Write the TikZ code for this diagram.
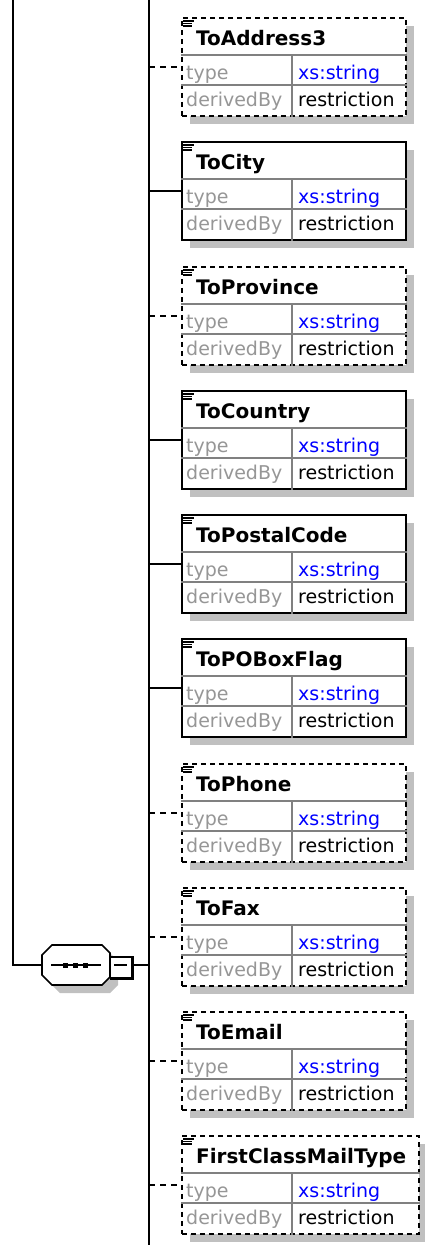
\documentclass[tikz,border=0pt]{standalone}
\usepackage{fontspec}
\setmainfont{DejaVu Sans}
\usetikzlibrary{shadows}
\definecolor{shadowgray}{RGB}{192,192,192}
\definecolor{labelgray}{RGB}{150,150,150}
\definecolor{rulegray}{RGB}{128,128,128}
\definecolor{typeblue}{RGB}{0,0,255}
\tikzset{
  req/.style={line width=1.8pt},
  opt/.style={line width=1.8pt, dash pattern=on 6pt off 5pt},
  reqbox/.style={line width=1.8pt},
  optbox/.style={line width=1.8pt, dash pattern=on 5pt off 4pt},
  elem/.style={draw, fill=white, inner sep=0pt, minimum height=98pt,
    drop shadow={shadow xshift=8pt, shadow yshift=-8pt, fill=shadowgray, opacity=1}},
  divider/.style={draw=rulegray, line width=1.3pt},
  docicon/.style={line width=1.2pt},
  eltitle/.style={anchor=base west, inner sep=0pt, font=\fontsize{20}{24}\selectfont\bfseries},
  attrname/.style={anchor=base west, inner sep=0pt, text=labelgray, font=\fontsize{19}{22}\selectfont},
  attrval/.style={anchor=base west, inner sep=0pt, font=\fontsize{19}{22}\selectfont},
}
% element box: id, title, top, width, line style (req/opt)
\newcommand{\elembox}[5]{%
  \node[elem, #5box, minimum width=#4pt, anchor=north west] (#1) at (181,#3) {};
  \draw[divider] ([yshift=-38pt]#1.north west) -- ([yshift=-38pt]#1.north east);
  \draw[divider] ([yshift=-68pt]#1.north west) -- ([yshift=-68pt]#1.north east);
  \draw[divider] ([shift={(111pt,-38pt)}]#1.north west) -- ([xshift=111pt]#1.south west);
  \draw[docicon] ([shift={(2pt,-4pt)}]#1.north west) -- ++(11pt,0pt);
  \draw[docicon] ([shift={(2pt,-6.5pt)}]#1.north west) -- ++(9pt,0pt);
  \draw[docicon] ([shift={(2pt,-9pt)}]#1.north west) -- ++(9pt,0pt);
  \node[eltitle] (#1-t) at ([shift={(15pt,-28pt)}]#1.north west) {#2};
  \node[attrname] (#1-tn) at ([shift={(5pt,-62pt)}]#1.north west) {type};
  \node[attrval, text=typeblue] (#1-tv) at ([shift={(117pt,-62pt)}]#1.north west) {xs:string};
  \node[attrname] (#1-dn) at ([shift={(5pt,-89pt)}]#1.north west) {derivedBy};
  \node[attrval] (#1-dv) at ([shift={(117pt,-89pt)}]#1.north west) {restriction};
  \coordinate (#1-c) at ([yshift=-50pt]#1.north west);
  \draw[#5] (#1-c -| spinetop) -- (#1-c);
}
\begin{document}
\begin{tikzpicture}[x=1pt,y=-1pt]
\useasboundingbox (0,0) rectangle (424,1245);
% spine and incoming line
\coordinate (spinetop) at (149,0);
\coordinate (spinebot) at (149,1245);
\coordinate (rootline) at (13,0);
\draw[req] (spinetop) -- (spinebot);
% sequence compositor
\node[minimum width=68pt, minimum height=40pt, inner sep=0pt] (seq) at (76,965) {};
\fill[shadowgray, shift={(8,8)}] (42,955) -- (52,945) -- (102,945) -- (110,953) -- (110,977) -- (102,985) -- (52,985) -- (42,975) -- cycle;
\draw[line width=1.6pt, fill=white] (42,955) -- (52,945) -- (102,945) -- (110,953) -- (110,977) -- (102,985) -- (52,985) -- (42,975) -- cycle;
\draw[line width=1.6pt] (51,965) -- (101,965);
\foreach \sx in {65,75,85}
  \fill (\sx-2.5,962.5) rectangle ++(5,5);
\node[draw, fill=white, line width=1.6pt, minimum width=21pt, minimum height=21pt, inner sep=0pt] (grp) at (121,967.5) {};
\draw[line width=3pt] (grp.south west) -- (grp.south east) -- (grp.north east);
\draw[line width=1.5pt] ([xshift=-7pt,yshift=2.5pt]grp.center) -- ([xshift=6pt,yshift=2.5pt]grp.center);
\draw[req] (rootline) |- (seq.west);
\draw[req] (grp.east |- seq.west) -- (seq.west -| spinetop);
% child elements
\elembox{toaddr}{ToAddress3}{17}{224}{opt}
\elembox{tocity}{ToCity}{141}{224}{req}
\elembox{toprov}{ToProvince}{266}{224}{opt}
\elembox{tocountry}{ToCountry}{390}{224}{req}
\elembox{topostal}{ToPostalCode}{514}{224}{req}
\elembox{topobox}{ToPOBoxFlag}{638}{224}{req}
\elembox{tophone}{ToPhone}{763}{224}{opt}
\elembox{tofax}{ToFax}{887}{224}{opt}
\elembox{toemail}{ToEmail}{1011}{224}{opt}
\elembox{mailtype}{FirstClassMailType}{1135}{237}{opt}
\end{tikzpicture}
\end{document}
